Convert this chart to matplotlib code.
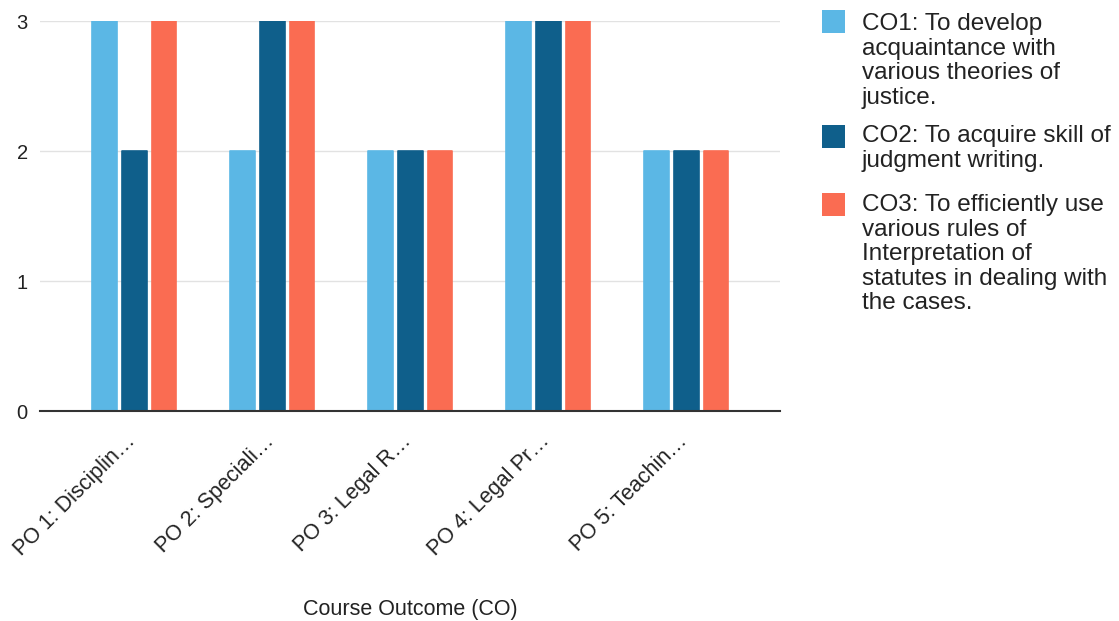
import matplotlib
matplotlib.use("Agg")
from matplotlib import pyplot as plt
from matplotlib.patches import Rectangle
from matplotlib.transforms import ScaledTranslation
import numpy as np

categories = ["PO 1: Disciplin…", "PO 2: Speciali…", "PO 3: Legal R…", "PO 4: Legal Pr…", "PO 5: Teachin…"]
co1 = [3, 2, 2, 3, 2]
co2 = [2, 3, 2, 3, 2]
co3 = [3, 3, 2, 3, 2]
series_names = [
    "CO1: To develop\nacquaintance with\nvarious theories of\njustice.",
    "CO2: To acquire skill of\njudgment writing.",
    "CO3: To efficiently use\nvarious rules of\nInterpretation of\nstatutes in dealing with\nthe cases.",
]
colors = ["#5bb7e5", "#0f5f8b", "#fa6c52"]

plt.rcParams["font.family"] = ["Liberation Sans", "DejaVu Sans"]

W, H = 1119, 621
fig = plt.figure(figsize=(W / 100, H / 100), dpi=100)
ax = fig.add_axes([0.036, 0.338, 0.661, 0.628])

x = np.arange(len(categories))
w = 0.18
step = 0.217
for i, vals in enumerate([co1, co2, co3]):
    ax.bar(x + (i - 1) * step, vals, width=w, color=colors[i], edgecolor=colors[i],
           linewidth=1.2, joinstyle="round", zorder=3)

ax.set_ylim(0, 3)
ax.set_xlim(-0.68, 4.68)
ax.set_yticks([0, 1, 2, 3])
ax.yaxis.grid(True, color="#e2e2e2", linewidth=1, zorder=0)
for s in ["top", "right", "left"]:
    ax.spines[s].set_visible(False)
ax.spines["bottom"].set_color("#333333")
ax.spines["bottom"].set_linewidth(1.5)
ax.spines["bottom"].set_zorder(4)
ax.tick_params(axis="both", length=0, colors="#222222")
ax.tick_params(axis="y", pad=9, labelsize=14.5)
ax.set_xticks(x)
ax.set_xticklabels(categories, rotation=45, ha="right", rotation_mode="anchor")
ax.tick_params(axis="x", pad=14, labelsize=15.5)
shift = ScaledTranslation(-9 / 100, 0, fig.dpi_scale_trans)
for lab in ax.get_xticklabels():
    lab.set_transform(lab.get_transform() + shift)
ax.set_xlabel("Course Outcome (CO)", fontsize=15.5, color="#222222", labelpad=28)

# legend drawn at the right, handles aligned with the first text line
sq_tops = [10, 125, 193]
txt_tops = [13, 125, 194]
for name, c, st, tt in zip(series_names, colors, sq_tops, txt_tops):
    fig.patches.append(Rectangle((822 / W, 1 - (st + 23) / H), 23 / W, 23 / H,
                                 facecolor=c, edgecolor="none", transform=fig.transFigure))
    fig.text(862 / W, 1 - tt / H, name, fontsize=17.5, color="#222222",
             va="top", ha="left", linespacing=1.15)

fig.savefig("out.png", dpi=100)
